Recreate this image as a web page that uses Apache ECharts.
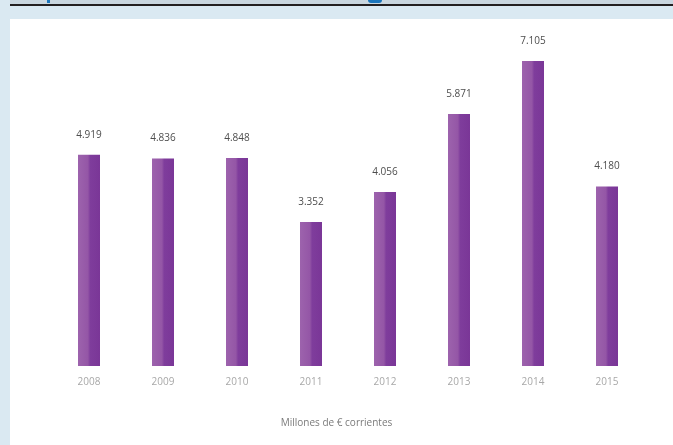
<!DOCTYPE html>
<html>
<head>
<meta charset="utf-8">
<script src="https://cdn.jsdelivr.net/npm/echarts@6/dist/echarts.min.js"></script>
<style>
  html, body { margin: 0; padding: 0; background: #dae9f2; }
  #chart { width: 673px; height: 445px; }
</style>
</head>
<body>
<div id="chart"></div>
<script>
// Annual amounts, millions of current euros
const years = ['2008', '2009', '2010', '2011', '2012', '2013', '2014', '2015'];
const amounts = [4919, 4836, 4848, 3352, 4056, 5871, 7105, 4180];
const unitNote = 'Millones de € corrientes';

// Spanish-style thousands separator: 4919 -> "4.919"
function fmt(v) {
  return String(v).replace(/\B(?=(\d{3})+(?!\d))/g, '.');
}

const chart = echarts.init(document.getElementById('chart'), null, { renderer: 'canvas' });

chart.setOption({
  backgroundColor: '#dae9f2',
  animation: false,
  textStyle: { fontFamily: 'Open Sans' },
  graphic: [
    // white content panel
    { type: 'rect', left: 10, top: 19, shape: { width: 663, height: 426 }, style: { fill: '#ffffff' }, z: -10 },
    // header rule
    { type: 'rect', left: 10, top: 4, shape: { width: 663, height: 2 }, style: { fill: '#231f20' }, z: -5 },
    { type: 'rect', left: 10, top: 0, shape: { width: 663, height: 4 }, style: { fill: '#c9d6df' }, z: -6 },
    // heading glyph tails above the rule
    { type: 'rect', left: 47, top: 0, shape: { width: 3, height: 3 }, style: { fill: '#1b75bb' }, z: -4 },
    { type: 'rect', left: 368, top: 0, shape: { width: 14, height: 3, r: [0, 0, 7, 7] }, style: { fill: '#1b75bb' }, z: -4 },
    {
      type: 'text', left: 'center', top: 418,
      style: { text: unitNote, fill: '#7a7a7a', font: '10px "Open Sans"' }
    }
  ],
  grid: { left: 52, right: 29, top: 22.6, bottom: 79 },
  xAxis: {
    type: 'category',
    data: years,
    axisLine: { show: false },
    axisTick: { show: false },
    axisLabel: { color: '#a8a8a8', fontSize: 10, margin: 11 }
  },
  yAxis: {
    type: 'value',
    min: 0, max: 8000,
    show: false,
    splitLine: { show: false }
  },
  series: [{
    type: 'bar',
    data: amounts,
    barWidth: 22,
    itemStyle: {
      color: {
        type: 'linear', x: 0, y: 0, x2: 1, y2: 0,
        colorStops: [
          { offset: 0, color: '#9d63ad' },
          { offset: 0.45, color: '#9456a6' },
          { offset: 0.55, color: '#7f3d9c' },
          { offset: 1, color: '#7a3697' }
        ]
      }
    },
    label: {
      show: true,
      position: 'top',
      distance: 15,
      color: '#4d4d4d',
      fontSize: 10,
      formatter: p => fmt(p.value)
    }
  }]
});
</script>
</body>
</html>
